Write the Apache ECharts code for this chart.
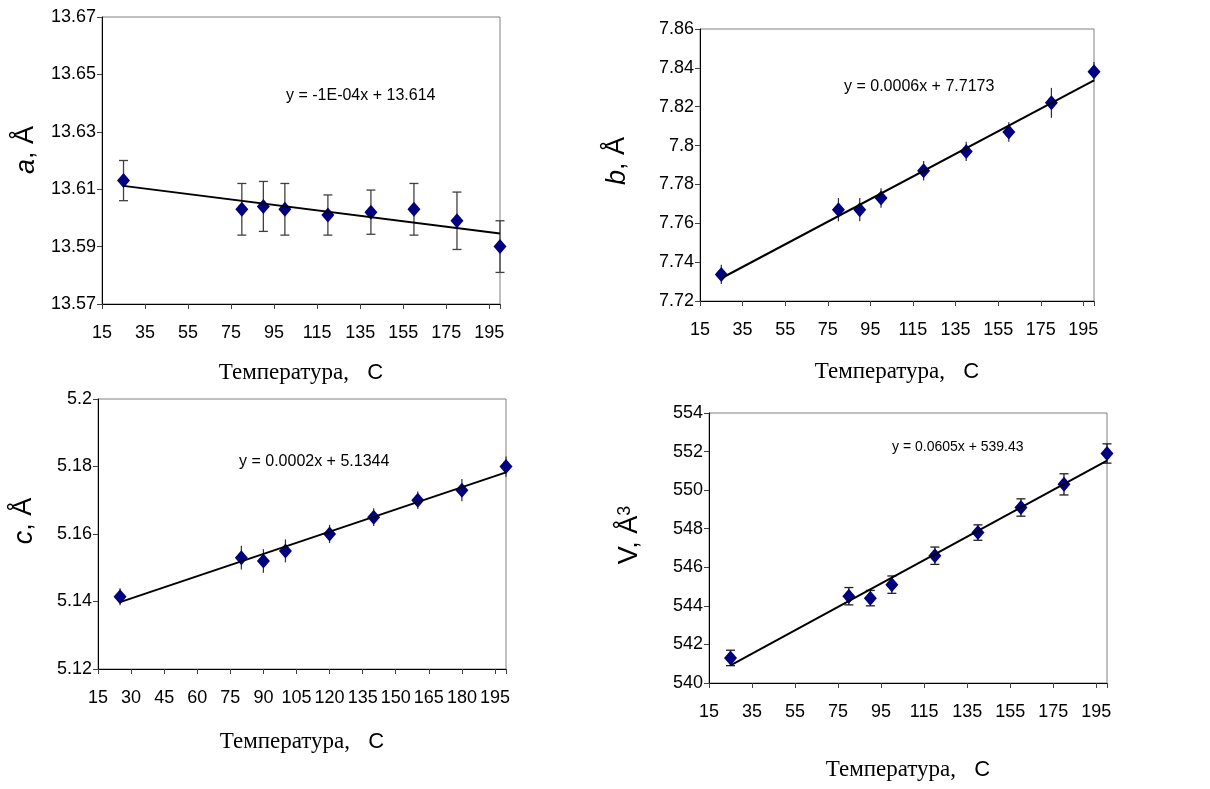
<!DOCTYPE html>
<html>
<head>
<meta charset="utf-8">
<script src="https://cdn.jsdelivr.net/npm/echarts@6/dist/echarts.min.js"></script>
<style>
  html, body { margin: 0; padding: 0; background: #ffffff; }
  #chart { width: 1210px; height: 789px; }
</style>
</head>
<body>
<div id="chart"></div>
<script>
// Measurement temperatures, °C
const temperatures = [25, 80, 90, 100, 120, 140, 160, 180, 200];

// Lattice parameter a, Å, and its uncertainty
const aValues = [13.613, 13.603, 13.604, 13.603, 13.601, 13.602, 13.603, 13.599, 13.590];
const aErrors = [0.007, 0.009, 0.0087, 0.009, 0.007, 0.0077, 0.009, 0.010, 0.009];

// Lattice parameter b, Å
const bValues = [7.7337, 7.767, 7.767, 7.773, 7.787, 7.797, 7.807, 7.822, 7.838];
const bErrors = [0.005, 0.006, 0.006, 0.005, 0.005, 0.005, 0.005, 0.0077, 0.005];

// Lattice parameter c, Å
const cValues = [5.1414, 5.153, 5.152, 5.155, 5.160, 5.165, 5.170, 5.173, 5.180];
const cErrors = [0.0025, 0.0035, 0.0035, 0.0034, 0.0027, 0.0026, 0.0026, 0.0033, 0.003];

// Unit cell volume V, Å^3
const vValues = [541.3, 544.5, 544.4, 545.1, 546.6, 547.8, 549.1, 550.3, 551.9];
const vErrors = [0.4, 0.45, 0.4, 0.45, 0.45, 0.4, 0.45, 0.55, 0.5];

// Axis ranges and tick steps
const xRange = [15, 200];
const xSteps = [20, 20, 15, 20];
const yRanges = [[13.57, 13.67], [7.72, 7.86], [5.12, 5.20], [540, 554]];
const ySteps = [0.02, 0.02, 0.02, 2];

// Trend line equations as printed on each panel
const equations = ['y = -1E-04x + 13.614', 'y = 0.0006x + 7.7173', 'y = 0.0002x + 5.1344', 'y = 0.0605x + 539.43'];

// Least-squares straight line through a set of points
function linearFit(xs, ys) {
  const n = xs.length;
  const mx = xs.reduce((s, v) => s + v, 0) / n;
  const my = ys.reduce((s, v) => s + v, 0) / n;
  let sxy = 0, sxx = 0;
  for (let i = 0; i < n; i++) {
    sxy += (xs[i] - mx) * (ys[i] - my);
    sxx += (xs[i] - mx) * (xs[i] - mx);
  }
  const slope = sxy / sxx;
  return { slope, intercept: my - slope * mx };
}

const panels = [
  { values: aValues, errors: aErrors, caps: true, barColor: '#404040',
    grid: { left: 102, top: 17, width: 398, height: 287 }, nameGap: 57,
    eq: { x: 286, y: 96, size: 16 },
    title: { x: 26, y: 150, text: '{i|a}{n|, Å}' } },
  { values: bValues, errors: bErrors, caps: false, barColor: '#303030',
    grid: { left: 700, top: 29, width: 394, height: 272 }, nameGap: 59,
    eq: { x: 844, y: 87, size: 16 },
    title: { x: 617, y: 161, text: '{i|b}{n|, Å}' } },
  { values: cValues, errors: cErrors, caps: false, barColor: '#303030',
    grid: { left: 98, top: 399, width: 408, height: 270 }, nameGap: 61,
    eq: { x: 239, y: 462, size: 16 },
    title: { x: 24, y: 521, text: '{i|c}{n|, Å}' } },
  { values: vValues, errors: vErrors, caps: true, barColor: '#202020',
    grid: { left: 709, top: 413, width: 398, height: 270 }, nameGap: 75,
    eq: { x: 892, y: 447, size: 14 },
    title: { x: 630, y: 535, text: '{n|V, Å}{sup|3}' } }
];

const SANS = '"Liberation Sans", Arial, sans-serif';
const SERIF = '"Liberation Serif", "Times New Roman", serif';

function yLabel(v) {
  return String(parseFloat(v.toFixed(3)));
}

const grids = [], xAxes = [], yAxes = [], series = [], graphics = [];

panels.forEach((p, i) => {
  grids.push(Object.assign({ show: true, borderColor: '#808080', borderWidth: 1, backgroundColor: '#ffffff' }, p.grid));

  const step = xSteps[i];
  xAxes.push({
    gridIndex: i, type: 'value', min: xRange[0], max: xRange[1], interval: step,
    axisLine: { show: true, onZero: false, lineStyle: { color: '#000', width: 1 } },
    axisTick: { show: true, length: 5, lineStyle: { color: '#404040' } },
    splitLine: { show: false },
    axisLabel: {
      margin: 20, color: '#000', fontFamily: SANS, fontSize: 18,
      formatter: v => ((v - xRange[0]) % step === 0 ? String(v) : '')
    },
    name: '{s|Температура,}{c|   C}',
    nameLocation: 'middle', nameGap: p.nameGap,
    nameTextStyle: {
      rich: {
        s: { fontFamily: SERIF, fontSize: 23, color: '#000' },
        c: { fontFamily: SANS, fontSize: 22, color: '#000' }
      }
    }
  });

  yAxes.push({
    gridIndex: i, type: 'value', min: yRanges[i][0], max: yRanges[i][1], interval: ySteps[i],
    axisLine: { show: true, onZero: false, lineStyle: { color: '#000', width: 1 } },
    axisTick: { show: true, length: 5, lineStyle: { color: '#404040' } },
    splitLine: { show: false },
    axisLabel: { margin: 6, color: '#000', fontFamily: SANS, fontSize: 18, formatter: yLabel }
  });

  // error bars
  series.push({
    type: 'custom', xAxisIndex: i, yAxisIndex: i, z: 2, silent: true, clip: false,
    data: temperatures.map((t, k) => [t, p.values[k] - p.errors[k], p.values[k] + p.errors[k]]),
    encode: { x: 0, y: [1, 2] },
    renderItem: (params, api) => {
      const x = api.value(0);
      const lo = api.coord([x, api.value(1)]);
      const hi = api.coord([x, api.value(2)]);
      const style = { stroke: p.barColor, lineWidth: p.caps ? 1.3 : 1.2 };
      const children = [{ type: 'line', shape: { x1: lo[0], y1: lo[1], x2: hi[0], y2: hi[1] }, style }];
      if (p.caps) {
        const w = 4.5;
        children.push({ type: 'line', shape: { x1: lo[0] - w, y1: lo[1], x2: lo[0] + w, y2: lo[1] }, style });
        children.push({ type: 'line', shape: { x1: hi[0] - w, y1: hi[1], x2: hi[0] + w, y2: hi[1] }, style });
      }
      return { type: 'group', children };
    }
  });

  // measured points
  series.push({
    type: 'scatter', xAxisIndex: i, yAxisIndex: i, z: 3, clip: false, silent: true,
    symbol: 'diamond', symbolSize: [13, 15],
    itemStyle: { color: '#000080', opacity: 1 },
    data: temperatures.map((t, k) => [t, p.values[k]])
  });

  // linear trend line
  const fit = linearFit(temperatures, p.values);
  const x0 = temperatures[0], x1 = temperatures[temperatures.length - 1];
  series.push({
    type: 'line', xAxisIndex: i, yAxisIndex: i, z: 4, silent: true,
    showSymbol: false, symbol: 'none',
    lineStyle: { color: '#000', width: 2 },
    data: [[x0, fit.intercept + fit.slope * x0], [x1, fit.intercept + fit.slope * x1]]
  });

  graphics.push({
    type: 'text', x: p.eq.x, y: p.eq.y, z: 10,
    style: {
      text: equations[i], font: p.eq.size + 'px ' + SANS, fill: '#000',
      align: 'left', verticalAlign: 'middle', textAlign: 'left', textVerticalAlign: 'middle'
    }
  });

  graphics.push({
    type: 'text', x: p.title.x, y: p.title.y, rotation: Math.PI / 2, z: 10,
    style: {
      text: p.title.text, fill: '#000',
      align: 'center', verticalAlign: 'middle', textAlign: 'center', textVerticalAlign: 'middle',
      rich: {
        i: { fontFamily: SANS, fontSize: 27, fontStyle: 'italic', fill: '#000' },
        n: { fontFamily: SANS, fontSize: 27, fill: '#000' },
        sup: { fontFamily: SANS, fontSize: 18, fill: '#000', verticalAlign: 'top' }
      }
    }
  });
});

const chart = echarts.init(document.getElementById('chart'), null, { renderer: 'canvas' });
chart.setOption({
  backgroundColor: '#ffffff',
  animation: false,
  grid: grids,
  xAxis: xAxes,
  yAxis: yAxes,
  series: series,
  graphic: graphics
});
</script>
</body>
</html>
